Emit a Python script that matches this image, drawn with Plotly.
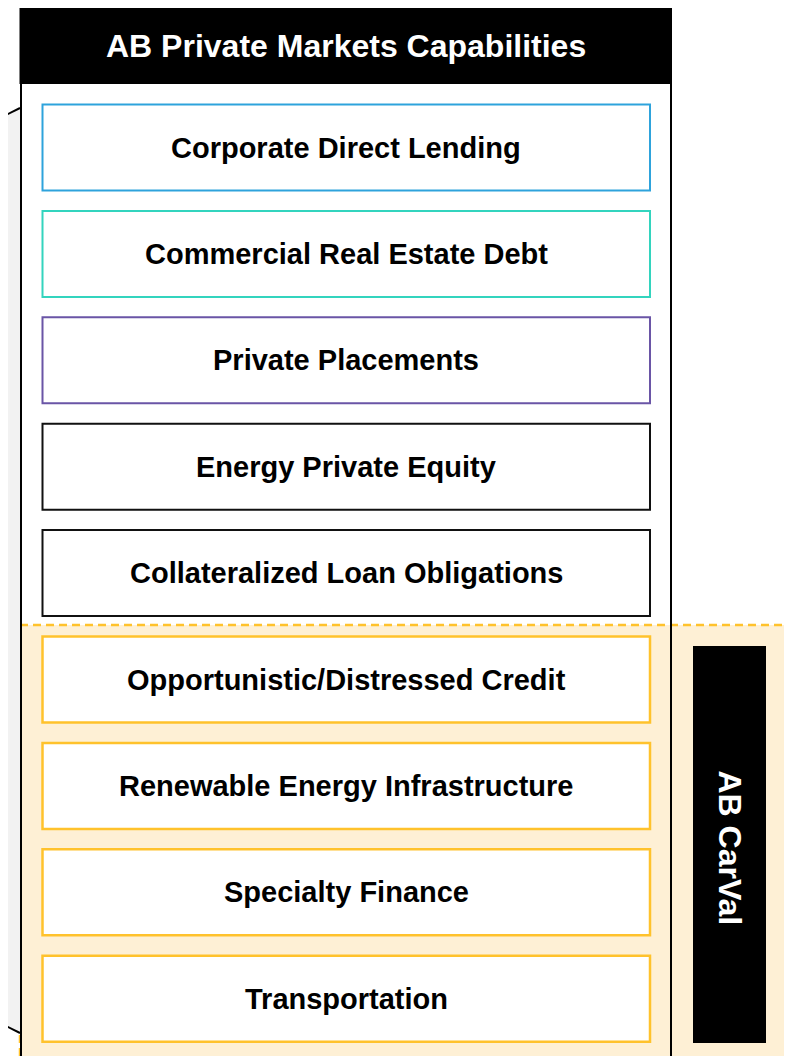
import plotly.graph_objects as go

# ---- data ----
title = "AB Private Markets Capabilities"
capabilities = [
    "Corporate Direct Lending",
    "Commercial Real Estate Debt",
    "Private Placements",
    "Energy Private Equity",
    "Collateralized Loan Obligations",
    "Opportunistic/Distressed Credit",
    "Renewable Energy Infrastructure",
    "Specialty Finance",
    "Transportation",
]
groups = ["blue", "teal", "purple", "core", "core", "carval", "carval", "carval", "carval"]
carval_label = "AB CarVal"

# ---- styles ----
group_colors = {
    "blue": "#2EA3DC",
    "teal": "#33D4BE",
    "purple": "#6A55A6",
    "core": "#111111",
    "carval": "#FFC22C",
}
W, H = 792, 1056
OFF = 8  # page body margin
FONT = "Liberation Sans, Arial, sans-serif"

fig = go.Figure()
shapes = []
annotations = []

# yellow CarVal region (bottom layer)
shapes.append(dict(type="rect", x0=20, x1=788, y0=625, y1=1080,
                   fillcolor="#FEF0D5", line=dict(color="#FFC22C", width=2.5, dash="8px,5px"),
                   layer="below"))
# gray callout on the left
shapes.append(dict(type="path", path="M -5,120.5 L 20,108 L 20,1033 L -5,1020.5 Z",
                   fillcolor="#F2F2F2", line=dict(width=0), layer="below"))
shapes.append(dict(type="line", x0=-5, y0=120.5, x1=20, y1=108,
                   line=dict(color="#000000", width=2)))
shapes.append(dict(type="line", x0=-5, y0=1020.5, x1=20, y1=1033,
                   line=dict(color="#000000", width=2)))
# main frame
shapes.append(dict(type="line", x0=21, y0=5, x1=21, y1=1080, line=dict(color="#000000", width=2)))
shapes.append(dict(type="line", x0=671, y0=5, x1=671, y1=1080, line=dict(color="#000000", width=2)))
shapes.append(dict(type="rect", x0=19.5, x1=672, y0=5, y1=84,
                   fillcolor="#000000", line=dict(width=0)))
annotations.append(dict(x=346, y=46, text="<b>%s</b>" % title, showarrow=False,
                        font=dict(family=FONT, size=32, color="#FFFFFF"),
                        xanchor="center", yanchor="middle"))

# capability boxes
top0, step, bh = 104.5, 106.4, 86
for i, (label, g) in enumerate(zip(capabilities, groups)):
    y0 = top0 + i * step
    lw = 2.5 if g == "carval" else 2
    shapes.append(dict(type="rect", x0=42.5, x1=650, y0=y0, y1=y0 + bh,
                       fillcolor="#FFFFFF", line=dict(color=group_colors[g], width=lw)))
    annotations.append(dict(x=346, y=y0 + bh / 2, text="<b>%s</b>" % label, showarrow=False,
                            font=dict(family=FONT, size=29, color="#000000"),
                            xanchor="center", yanchor="middle"))

# CarVal black bar
shapes.append(dict(type="rect", x0=693, x1=766, y0=646, y1=1043,
                   fillcolor="#000000", line=dict(width=0)))
annotations.append(dict(x=729.5, y=848, text="<b>%s</b>" % carval_label, showarrow=False,
                        textangle=90,
                        font=dict(family=FONT, size=32, color="#FFFFFF"),
                        xanchor="center", yanchor="middle"))

fig.update_layout(
    width=W, height=H,
    margin=dict(l=0, r=0, t=0, b=0),
    paper_bgcolor="#FFFFFF", plot_bgcolor="#FFFFFF",
    xaxis=dict(range=[OFF, W + OFF], visible=False, fixedrange=True),
    yaxis=dict(range=[H + OFF, OFF], visible=False, fixedrange=True),
    shapes=shapes, annotations=annotations,
    showlegend=False,
)
fig.write_html("out.html")
